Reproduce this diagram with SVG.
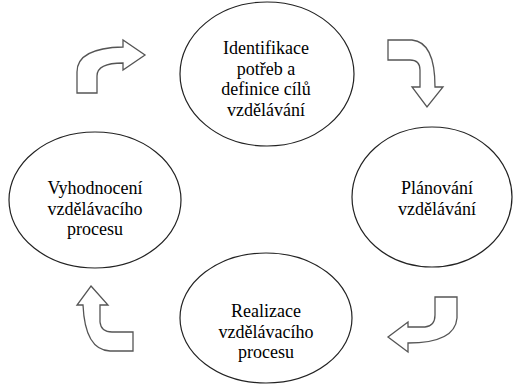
<svg xmlns="http://www.w3.org/2000/svg" width="514" height="385" viewBox="0 0 514 385">
<style>
.node ellipse{fill:#fff;stroke:#222;stroke-width:1.2}
.node text{font-family:'Liberation Serif','DejaVu Serif',serif;font-size:18px;fill:#000;text-anchor:middle}
.arrow{fill:#fff;stroke:#555;stroke-width:1.3;stroke-linejoin:miter}
</style>
<rect width="514" height="385" fill="#fff"/>
<g id="connectors">
<path class="arrow" d="M77,93 L77,72 Q77,48 123,47 L123,40 L145,55 L123,70 L123,63 Q97,63 97,76 L97,93 Z"/>
<path class="arrow" d="M388,40 L412,40 Q435,42 435,87 L443,87 L427,107 L412,87 L420,87 L420,70 Q420,60 410,60 L388,60 Z"/>
<path class="arrow" d="M435,297 L457,297 L457,318 Q455,343 408,343 L408,352 L388,337 L408,322 L408,327 L425,327 Q435,326 435,315 Z"/>
<path class="arrow" d="M91,286 L108,305 L100,305 L100,322 Q101,332 112,332 L133,332 L133,351 L110,351 Q85,350 83,305 L77,305 Z"/>
</g>
<g id="node-identifikace" class="node">
<ellipse cx="267" cy="74" rx="87" ry="72"/>
<text x="266" y="54" font-family="Liberation Serif">Identifikace</text>
<text x="266" y="74.5">potřeb a</text>
<text x="266" y="95">definice cílů</text>
<text x="266" y="115.5">vzdělávání</text>
</g>
<g id="node-planovani" class="node">
<ellipse cx="432" cy="197" rx="80" ry="70"/>
<text x="437" y="194">Plánování</text>
<text x="437" y="214.5">vzdělávání</text>
</g>
<g id="node-realizace" class="node">
<ellipse cx="266" cy="318" rx="86" ry="65"/>
<text x="266" y="317">Realizace</text>
<text x="266" y="337.5">vzdělávacího</text>
<text x="266" y="358">procesu</text>
</g>
<g id="node-vyhodnoceni" class="node">
<ellipse cx="95" cy="200" rx="86" ry="68"/>
<text x="95" y="194">Vyhodnocení</text>
<text x="95" y="214.5">vzdělávacího</text>
<text x="95" y="235">procesu</text>
</g>
</svg>
